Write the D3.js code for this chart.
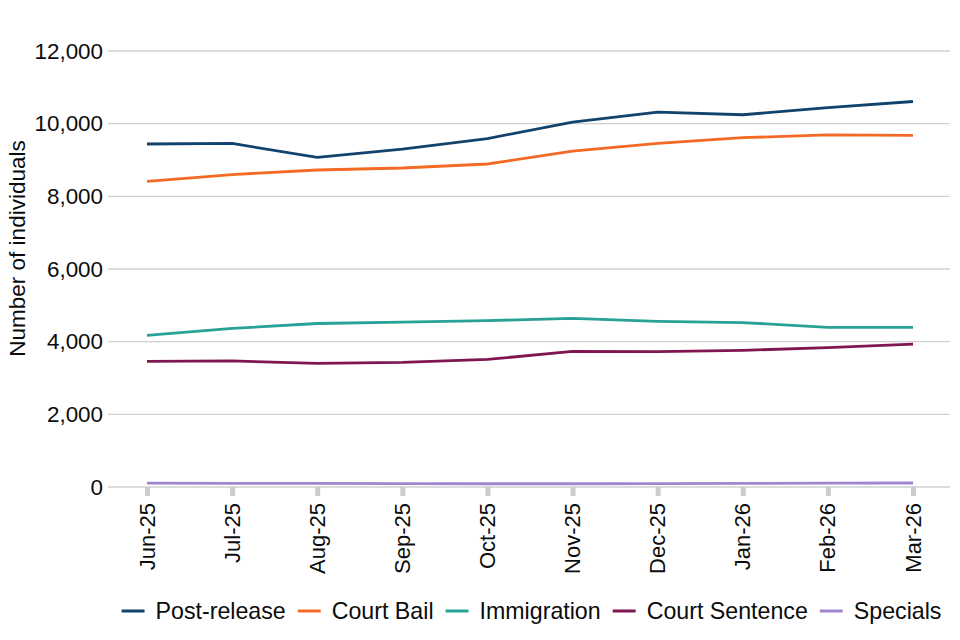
<!DOCTYPE html>
<html>
<head>
<meta charset="utf-8">
<script src="https://cdn.jsdelivr.net/npm/d3@7"></script>
<style>
  html, body { margin: 0; padding: 0; background: #fff; }
  svg { display: block; font-family: "Liberation Sans", Arial, sans-serif; }
</style>
</head>
<body>
<svg id="chart" width="960" height="640"></svg>
<script>
const months = ["Jun-25","Jul-25","Aug-25","Sep-25","Oct-25","Nov-25","Dec-25","Jan-26","Feb-26","Mar-26"];
const seriesNames = ["Post-release","Court Bail","Immigration","Court Sentence","Specials"];
const postRelease   = [9440, 9455, 9070, 9300, 9590, 10045, 10320, 10245, 10440, 10610];
const courtBail     = [8410, 8600, 8725, 8780, 8890, 9245, 9460, 9615, 9690, 9680];
const immigration   = [4175, 4365, 4500, 4540, 4580, 4640, 4560, 4525, 4395, 4395];
const courtSentence = [3460, 3470, 3405, 3430, 3510, 3735, 3725, 3760, 3835, 3935];
const specials      = [105, 100, 100, 95, 90, 90, 95, 100, 105, 110];
const yTicks = [0, 2000, 4000, 6000, 8000, 10000, 12000];
const colors = ["#12436D", "#F46A25", "#28A197", "#801650", "#A285D1"];

const seriesValues = [postRelease, courtBail, immigration, courtSentence, specials];

const svg = d3.select("#chart");
const plotLeft = 108, plotRight = 950, plotTop = 51, plotBottom = 487;

const x = d3.scalePoint().domain(months).range([147, 913]);
const y = d3.scaleLinear().domain([0, 12000]).range([plotBottom, plotTop]);

// gridlines
svg.append("g").selectAll("line").data(yTicks).join("line")
  .attr("x1", plotLeft).attr("x2", plotRight)
  .attr("y1", d => y(d)).attr("y2", d => y(d))
  .attr("stroke", "#d0d0d0").attr("stroke-width", 1.3);

// y axis labels
const yAxis = svg.append("g").attr("transform", `translate(${plotLeft},0)`)
  .call(d3.axisLeft(y).tickValues(yTicks).tickFormat(d3.format(",")).tickSize(0).tickPadding(5));
yAxis.select(".domain").remove();
yAxis.selectAll("text").attr("font-size", 22.4).attr("fill", "#0b0c0c")
  .style("font-family", "'Liberation Sans', Arial, sans-serif");

// x axis
const xAxis = svg.append("g").attr("transform", `translate(0,${plotBottom})`)
  .call(d3.axisBottom(x).tickSize(9).tickPadding(0));
xAxis.select(".domain").remove();
xAxis.selectAll(".tick line").attr("stroke", "#cccccc").attr("stroke-width", 5);
xAxis.selectAll("text")
  .attr("font-size", 22).attr("fill", "#0b0c0c")
  .style("font-family", "'Liberation Sans', Arial, sans-serif")
  .attr("transform", "rotate(-90)")
  .attr("x", -16).attr("y", 0).attr("dy", "0.32em")
  .style("text-anchor", "end");

// y axis title
svg.append("text")
  .attr("transform", "translate(17,248.5) rotate(-90)")
  .attr("text-anchor", "middle")
  .attr("dy", "0.36em")
  .attr("font-size", 22.5).attr("fill", "#0b0c0c")
  .text("Number of individuals");

// lines
const line = d3.line().x((d, i) => x(months[i])).y(d => y(d));
svg.append("g").selectAll("path").data(seriesValues).join("path")
  .attr("d", d => line(d))
  .attr("fill", "none")
  .attr("stroke", (d, i) => colors[i])
  .attr("stroke-width", 2.8)
  .attr("stroke-linejoin", "round");

// legend
const legend = svg.append("g");
const items = legend.selectAll("g").data(seriesNames).join("g");
items.append("line")
  .attr("x1", 0).attr("x2", 23).attr("y1", 0).attr("y2", 0)
  .attr("stroke", (d, i) => colors[i]).attr("stroke-width", 3);
items.append("text")
  .attr("x", 34).attr("y", 0).attr("dy", "0.36em")
  .attr("font-size", 23.2).attr("fill", "#0b0c0c")
  .text(d => d);
let offset = 0;
const positions = [];
items.each(function() {
  const w = d3.select(this).select("text").node().getComputedTextLength();
  positions.push(offset);
  offset += 34 + w + 12;
});
const total = offset - 12;
const startX = 531.5 - total / 2;
items.attr("transform", (d, i) => `translate(${startX + positions[i]},611)`);
</script>
</body>
</html>
